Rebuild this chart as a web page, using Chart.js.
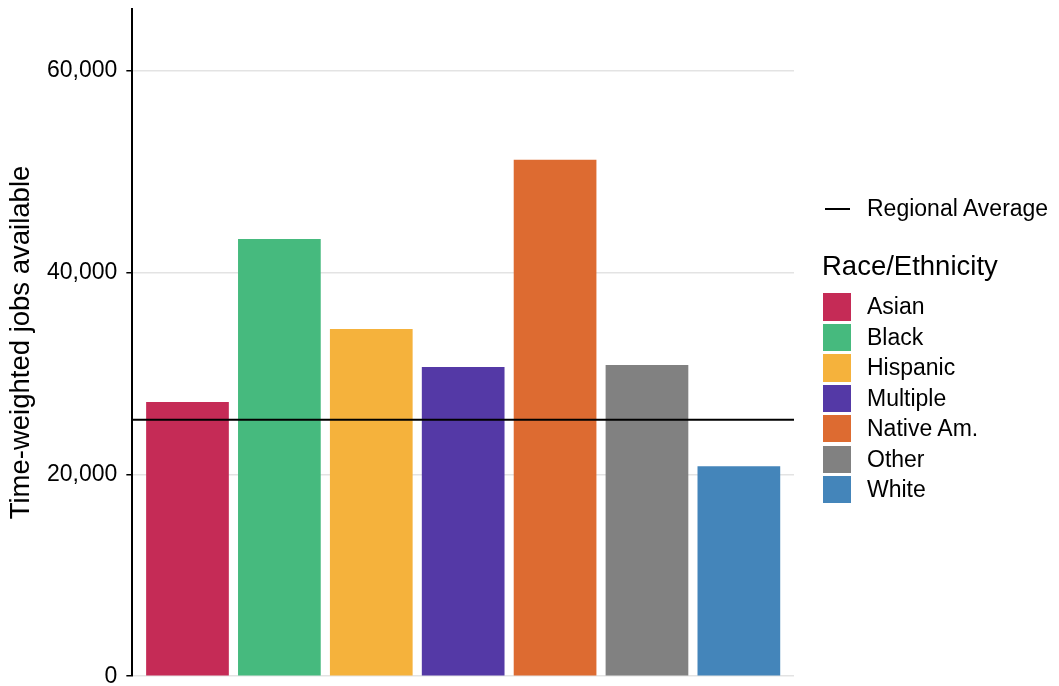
<!DOCTYPE html>
<html>
<head>
<meta charset="utf-8">
<script src="https://cdn.jsdelivr.net/npm/chart.js@4"></script>
<style>
  html, body { margin: 0; padding: 0; background: #fff; }
  body { width: 1059px; height: 686px; position: relative; overflow: hidden; font-family: "Liberation Sans", Arial, sans-serif; color: #000; }
  #wrap { position: absolute; left: 0; top: -14px; width: 1059px; height: 713px; }
  .lg { position: absolute; white-space: nowrap; }
  .lgtext { position: absolute; left: 867px; font-size: 23px; height: 27.4px; line-height: 27.4px; white-space: nowrap; }
  .box { position: absolute; left: 823px; width: 27.7px; height: 27.4px; }
</style>
</head>
<body>
<div id="wrap"><canvas id="c"></canvas></div>
<div id="legend"></div>
<script>
const categories = ["Asian", "Black", "Hispanic", "Multiple", "Native Am.", "Other", "White"];
const jobs = [27150, 43310, 34385, 30615, 51145, 30815, 20800];
const colors = ["#c52b56", "#46ba7e", "#f5b23c", "#5439a6", "#dd6b31", "#818181", "#4485ba"];
const regionalAverage = 25390;
const yTicks = [0, 20000, 40000, 60000];
const yMax = 66100;
const xMin = -0.6, xMax = 6.6;

const barData = categories.map((c, i) => ({ x: i, y: jobs[i] }));
const avgData = [{ x: xMin, y: regionalAverage }, { x: xMax, y: regionalAverage }];

const FONT = "'Liberation Sans', Arial, sans-serif";

new Chart(document.getElementById('c'), {
  data: {
    datasets: [
      {
        type: 'line',
        label: 'Regional Average',
        data: avgData,
        borderColor: '#000',
        borderWidth: 2,
        pointRadius: 0,
        fill: false,
        order: 0
      },
      {
        type: 'bar',
        label: 'Race/Ethnicity',
        data: barData,
        backgroundColor: colors,
        borderWidth: 0,
        barPercentage: 0.9,
        categoryPercentage: 1.0,
        order: 1
      }
    ]
  },
  options: {
    responsive: true,
    maintainAspectRatio: false,
    animation: false,
    layout: { padding: { left: 0, right: 265, top: 14.3, bottom: 17.3 } },
    plugins: { legend: { display: false }, tooltip: { enabled: false } },
    scales: {
      x: {
        type: 'linear',
        min: xMin,
        max: xMax,
        offset: false,
        display: false,
        afterBuildTicks: (scale) => { scale.ticks = categories.map((c, i) => ({ value: i })); },
        grid: { display: false }
      },
      y: {
        min: 0,
        max: yMax,
        afterBuildTicks: (scale) => { scale.ticks = yTicks.map(v => ({ value: v })); },
        ticks: {
          color: '#000',
          padding: 9,
          font: { family: FONT, size: 23 },
          callback: (v) => v.toLocaleString('en-US')
        },
        grid: { color: '#e3e3e3', lineWidth: 1.5, tickColor: '#000', tickLength: 6, tickWidth: 1.5 },
        border: { color: '#000', width: 2 },
        title: {
          display: true,
          text: 'Time-weighted jobs available',
          color: '#000',
          font: { family: FONT, size: 27.5 },
          padding: { top: 5, bottom: 0 }
        }
      }
    }
  }
});

// Legend (HTML text)
const legend = document.getElementById('legend');
let html = '';
html += '<div class="lg" style="left:825px;top:207.5px;width:24.5px;height:2px;background:#000"></div>';
html += '<div class="lgtext" style="top:195.3px">Regional Average</div>';
html += '<div class="lg" style="left:822px;top:250px;font-size:27.5px;line-height:32px;height:32px">Race/Ethnicity</div>';
categories.forEach((c, i) => {
  const top = 293.3 + i * 30.45;
  html += '<div class="box" style="top:' + top + 'px;background:' + colors[i] + '"></div>';
  html += '<div class="lgtext" style="top:' + top + 'px">' + c + '</div>';
});
legend.innerHTML = html;
</script>
</body>
</html>
